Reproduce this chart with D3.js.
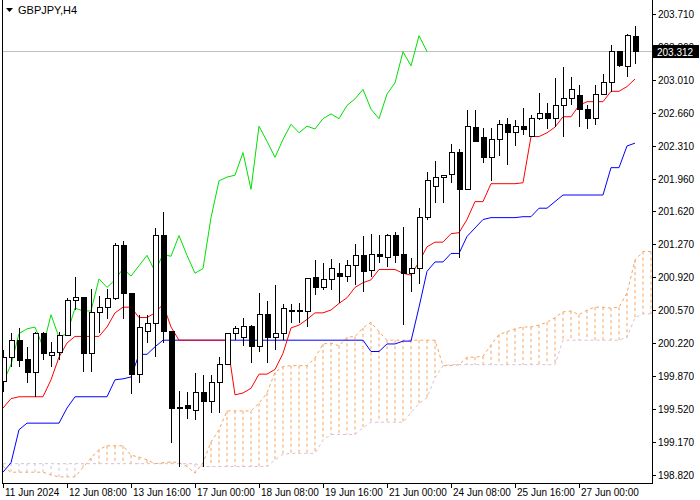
<!DOCTYPE html>
<html><head><meta charset="utf-8">
<script src="https://cdn.jsdelivr.net/npm/d3@7"></script>
<style>body{margin:0;background:#fff}svg{display:block}</style>
</head><body>
<svg id="c" width="700" height="500"></svg>
<script>
const symbol = "GBPJPY,H4";
const lastPrice = 203.312;
const opens  = [199.81,200.07,200.25,200.04,199.91,200.32,200.09,200.12,200.30,200.67,200.70,200.11,200.54,200.60,200.69,201.25,200.74,199.89,200.34,200.43,201.36,200.34,199.54,199.56,199.50,199.70,199.60,199.80,199.99,200.32,200.28,200.39,200.18,200.52,200.28,200.32,200.56,200.56,200.55,200.91,200.81,200.89,200.96,200.93,201.04,201.15,200.99,201.16,201.13,201.36,201.16,200.96,201.01,201.55,201.88,201.98,202.01,202.24,201.85,202.51,202.40,202.19,202.38,202.54,202.45,202.52,202.41,202.60,202.65,202.60,202.74,202.81,202.85,202.70,202.60,202.86,202.98,203.31,203.15,203.47];
const highs  = [200.15,200.33,200.38,200.18,200.34,200.34,200.23,200.34,200.70,200.92,200.71,200.79,200.72,200.79,201.28,201.30,200.74,200.52,200.52,201.44,201.61,200.34,199.71,199.70,199.90,199.88,199.88,200.07,200.32,200.40,200.49,200.41,200.75,200.67,200.84,200.63,200.63,200.64,200.91,201.10,201.07,201.11,201.07,201.10,201.27,201.35,201.38,201.37,201.38,201.40,201.45,201.12,201.65,202.03,202.15,202.00,202.33,202.28,202.69,202.69,202.50,202.50,202.59,202.61,202.59,202.71,202.64,202.87,202.77,203.03,203.15,203.04,202.96,202.74,202.96,203.07,203.38,203.32,203.50,203.58];
const lows   = [199.70,199.97,199.97,199.80,199.65,200.04,199.97,200.04,200.29,200.57,199.91,199.91,200.33,200.48,200.68,200.48,199.68,199.80,200.22,200.07,200.22,199.16,198.91,199.41,199.40,198.91,199.48,199.48,199.99,200.25,200.19,200.01,200.12,200.01,200.15,200.25,200.43,200.43,200.39,200.73,200.78,200.78,200.64,200.87,200.84,200.76,200.92,201.07,201.03,201.07,200.41,200.76,200.85,201.53,201.71,201.71,201.92,201.12,201.84,202.36,202.13,201.94,202.20,202.11,202.31,202.43,202.40,202.59,202.49,202.51,202.40,202.74,202.51,202.49,202.53,202.85,202.88,203.15,203.04,203.18];
const closes = [200.07,200.25,200.03,199.91,200.32,200.11,200.12,200.30,200.67,200.70,200.11,200.54,200.60,200.69,201.25,200.74,199.89,200.38,200.43,201.36,200.34,199.53,199.53,199.53,199.70,199.60,199.80,199.99,200.32,200.37,200.39,200.18,200.52,200.28,200.32,200.59,200.56,200.56,200.90,200.81,200.89,201.01,200.93,201.04,201.15,200.98,201.16,201.14,201.36,201.15,200.96,201.01,201.55,201.94,201.98,202.00,202.24,201.85,202.52,202.36,202.19,202.38,202.54,202.45,202.52,202.49,202.60,202.65,202.60,202.74,202.81,202.91,202.70,202.60,202.86,202.98,203.31,203.16,203.48,203.312];
const tenkan = [199.53,199.63,199.65,199.65,199.65,199.65,199.83,200.07,200.22,200.29,200.29,200.29,200.29,200.39,200.54,200.60,200.60,200.49,200.49,200.54,200.63,200.39,200.25,200.25,200.25,200.25,200.25,200.25,200.25,199.67,199.69,199.74,199.89,199.89,199.94,200.11,200.38,200.41,200.47,200.54,200.54,200.57,200.64,200.70,200.81,200.86,200.89,201.00,201.00,201.00,200.96,200.94,201.08,201.24,201.29,201.29,201.38,201.39,201.53,201.72,201.72,201.91,201.91,201.91,201.91,201.92,202.41,202.41,202.45,202.51,202.62,202.62,202.74,202.78,202.78,202.78,202.89,202.89,202.94,203.02];
const kijun  = [198.85,198.95,199.30,199.37,199.37,199.37,199.37,199.37,199.53,199.65,199.65,199.65,199.65,199.65,199.83,199.84,199.86,200.10,200.10,200.18,200.25,200.25,200.25,200.25,200.25,200.25,200.25,200.25,200.25,200.25,200.25,200.25,200.25,200.25,200.25,200.25,200.25,200.25,200.25,200.25,200.25,200.25,200.25,200.25,200.25,200.25,200.13,200.13,200.21,200.21,200.24,200.24,200.60,200.98,201.08,201.08,201.17,201.17,201.35,201.44,201.53,201.55,201.55,201.55,201.55,201.56,201.56,201.65,201.65,201.72,201.79,201.79,201.79,201.79,201.79,201.79,202.08,202.08,202.31,202.34];
const spanA  = [198.91,198.85,198.85,198.85,198.85,198.85,198.82,198.80,198.80,198.80,198.90,199.00,199.09,199.13,199.13,199.13,199.03,199.01,198.98,198.94,198.95,198.96,198.95,198.91,198.84,198.95,199.17,199.30,199.50,199.50,199.50,199.50,199.58,199.69,199.91,199.97,199.98,199.98,199.98,200.06,200.21,200.22,200.19,200.28,200.29,200.38,200.44,200.34,200.25,200.25,200.25,200.25,200.25,200.25,200.25,199.98,199.98,199.99,200.07,200.07,200.08,200.20,200.31,200.34,200.37,200.39,200.39,200.41,200.44,200.49,200.55,200.56,200.52,200.57,200.60,200.60,200.59,200.60,200.75,201.10,201.19,201.19];
const spanB  = [198.94,198.94,198.94,198.94,198.94,198.94,198.94,198.94,198.94,198.94,198.94,198.94,198.94,198.94,198.94,198.94,198.94,198.94,198.94,198.94,198.94,198.94,198.94,198.94,198.94,198.91,198.91,198.91,198.91,198.91,198.91,198.91,198.91,198.91,198.98,199.04,199.05,199.05,199.05,199.05,199.19,199.25,199.25,199.25,199.25,199.32,199.38,199.38,199.38,199.38,199.38,199.48,199.58,199.64,199.85,199.98,199.99,199.99,199.99,199.99,199.99,199.99,199.99,199.99,199.99,199.99,199.99,199.99,199.99,199.99,200.25,200.25,200.25,200.25,200.25,200.25,200.25,200.25,200.28,200.49,200.53,200.53];
const chikouShift = 26;
const yTicks = [203.710,203.360,203.010,202.660,202.310,201.960,201.620,201.270,200.920,200.570,200.220,199.870,199.520,199.170,198.820];
const xLabels = ["11 Jun 2024","12 Jun 08:00","13 Jun 16:00","17 Jun 00:00","18 Jun 08:00","19 Jun 16:00","21 Jun 00:00","24 Jun 08:00","25 Jun 16:00","27 Jun 00:00"];
const xLabelBars = [0,8,16,24,32,40,48,56,64,72];

const svg = d3.select("#c");
const L = 2, R = 652, T = 0, B = 483;
const x = d3.scaleLinear().domain([0, 81]).range([3, 651]);
const y = d3.scaleLinear().domain([198.820, 203.710]).range([475, 14]);
const font = "'Liberation Sans', Arial, sans-serif";
const plot = svg.append("g");
svg.append("clipPath").attr("id","cl").append("rect").attr("x",L).attr("y",T).attr("width",R-L).attr("height",B-T);
plot.attr("clip-path","url(#cl)");

const cloudIdx = d3.range(spanA.length);
plot.selectAll("line.h").data(cloudIdx).join("line")
  .attr("x1", i => x(i)).attr("x2", i => x(i))
  .attr("y1", i => y(spanA[i])).attr("y2", i => y(spanB[i]))
  .attr("stroke", i => spanA[i] >= spanB[i] ? "#F4A460" : "#D8BFD8")
  .attr("stroke-dasharray","3,3").attr("stroke-width",1);
const line = arr => d3.line().x((d,i)=>x(i)).y(d=>y(d))(arr);
plot.append("path").attr("d", line(spanB)).attr("fill","none").attr("stroke","#D8BFD8").attr("stroke-dasharray","3,3");
plot.append("path").attr("d", line(spanA)).attr("fill","none").attr("stroke","#F4A460").attr("stroke-dasharray","3,3");

plot.append("line").attr("x1",L).attr("x2",R).attr("y1",y(lastPrice)).attr("y2",y(lastPrice)).attr("stroke","#c0c0c0");

const chikou = closes.slice(chikouShift);
plot.append("path").attr("d", line(chikou)).attr("fill","none").attr("stroke","#00e000");
plot.append("path").attr("d", line(kijun)).attr("fill","none").attr("stroke","#0000ff");
plot.append("path").attr("d", line(tenkan)).attr("fill","none").attr("stroke","#ff0000");

const idx = d3.range(closes.length);
const g = plot.append("g").attr("shape-rendering","crispEdges");
g.selectAll("line.w").data(idx).join("line")
  .attr("x1",i=>Math.round(x(i))+0.5).attr("x2",i=>Math.round(x(i))+0.5)
  .attr("y1",i=>y(highs[i])).attr("y2",i=>y(lows[i])).attr("stroke","#000");
g.selectAll("rect.b").data(idx).join("rect")
  .attr("x",i=>Math.round(x(i))-2+0.5).attr("width",5)
  .attr("y",i=>y(Math.max(opens[i],closes[i])))
  .attr("height",i=>Math.max(0.5, Math.abs(y(opens[i])-y(closes[i]))))
  .attr("fill",i=>closes[i]>=opens[i]?"#fff":"#000").attr("stroke","#000");

svg.append("path").attr("d",`M${L+0.5},${T}V${B+0.5}H${R+0.5}V${T}`).attr("fill","none").attr("stroke","#000").attr("shape-rendering","crispEdges");

const ya = svg.append("g").attr("font-family",font).attr("font-size",10);
yTicks.forEach(v=>{
  ya.append("line").attr("x1",R).attr("x2",R+4).attr("y1",Math.round(y(v))+0.5).attr("y2",Math.round(y(v))+0.5).attr("stroke","#000");
  ya.append("text").attr("x",R+6).attr("y",y(v)+4).text(v.toFixed(3));
});
ya.append("rect").attr("x",R+1).attr("y",y(lastPrice)-6.5).attr("width",46).attr("height",13).attr("fill","#000");
ya.append("text").attr("x",R+5).attr("y",y(lastPrice)+4).attr("fill","#fff").text(lastPrice.toFixed(3));

const xa = svg.append("g").attr("font-family",font).attr("font-size",10);
xLabelBars.forEach((b,k)=>{
  xa.append("line").attr("x1",Math.round(x(b))+0.5).attr("x2",Math.round(x(b))+0.5).attr("y1",B).attr("y2",B+5).attr("stroke","#000");
  xa.append("text").attr("x",x(b)+2).attr("y",B+13).text(xLabels[k]);
});

svg.append("path").attr("d","M6,8H13L9.5,12Z").attr("fill","#000");
svg.append("text").attr("x",18).attr("y",14).attr("font-family",font).attr("font-size",11).text(symbol);
</script>
</body></html>
